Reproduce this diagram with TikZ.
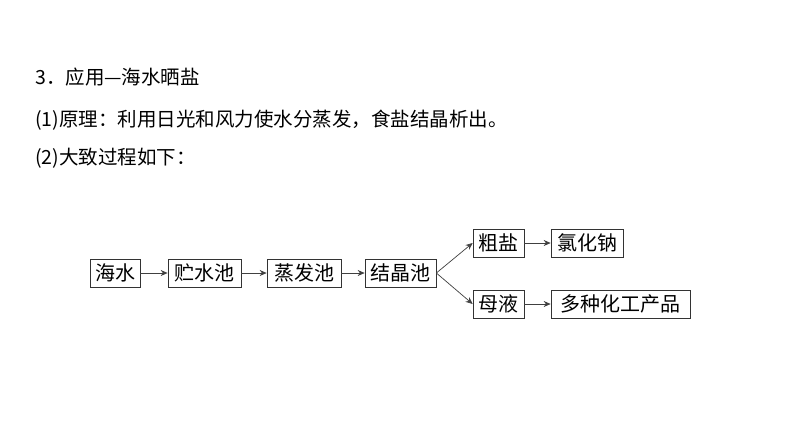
\documentclass[tikz,border=0pt]{standalone}
\usepackage{fontspec}
\newfontfamily\cjk{Noto Sans CJK SC}
\usetikzlibrary{arrows.meta}
\begin{document}
\begin{tikzpicture}[x=1pt,y=-1pt,
  bx/.style={draw=black!80,line width=0.7pt,inner sep=0pt,minimum height=28pt,font=\cjk\fontsize{20}{20}\selectfont},
  ar/.style={-{Stealth[length=7pt,width=6pt]},black!75,line width=0.7pt},
  tx/.style={anchor=west,font=\cjk\fontsize{19.5}{23}\selectfont,inner sep=0pt}]
\useasboundingbox[fill=white] (0,0) rectangle (794,447);
\node[tx] (t1) at (35,77) {3．应用—海水晒盐};
\node[tx] (t2) at (35,120) {(1)原理：利用日光和风力使水分蒸发，食盐结晶析出。};
\node[tx] (t3) at (35,158) {(2)大致过程如下：};
\node[bx,minimum width=50pt] (a) at (115,273) {海水};
\node[bx,minimum width=73pt] (b) at (204.5,273) {贮水池};
\node[bx,minimum width=74pt] (c) at (304,273) {蒸发池};
\node[bx,minimum width=71pt] (d) at (400.5,273) {结晶池};
\node[bx,minimum width=51pt] (e) at (498.5,243) {粗盐};
\node[bx,minimum width=72pt] (f) at (587,243) {氯化钠};
\node[bx,minimum width=51pt] (g) at (498.5,304) {母液};
\node[bx,minimum width=139pt] (h) at (620.5,304) {多种化工产品};
\draw[ar] (a) -- (b);
\draw[ar] (b) -- (c);
\draw[ar] (c) -- (d);
\draw[ar] (d.east) -- (e.west);
\draw[ar] (d.east) -- (g.west);
\draw[ar] (e) -- (f);
\draw[ar] (g) -- (h);
\end{tikzpicture}
\end{document}
